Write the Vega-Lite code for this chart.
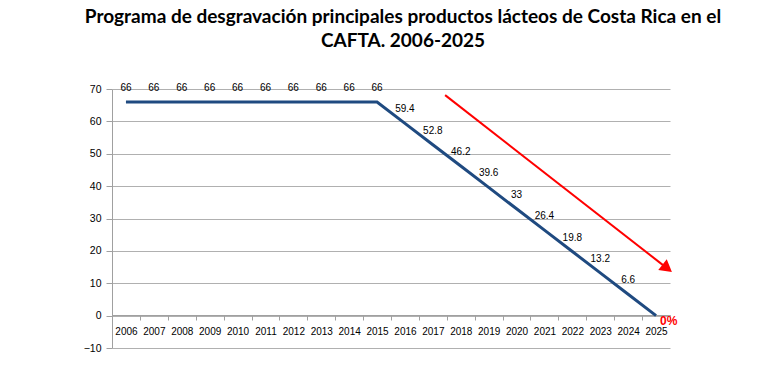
{
  "$schema": "https://vega.github.io/schema/vega-lite/v6.json",
  "width": 558,
  "height": 259,
  "autosize": "none",
  "padding": {"left": 112, "top": 89, "right": 105, "bottom": 26},
  "background": "white",
  "title": {
    "text": ["Programa de desgravación principales productos lácteos de Costa Rica en el", "CAFTA. 2006-2025"],
    "font": "Lato",
    "fontSize": 19,
    "fontWeight": "bold",
    "color": "black",
    "lineHeight": 24,
    "anchor": "middle",
    "frame": "group",
    "dx": 12,
    "offset": 32
  },
  "config": {
    "view": {"stroke": null},
    "axisY": {
      "title": null,
      "values": [-10, 0, 10, 20, 30, 40, 50, 60, 70],
      "labelOverlap": false,
      "grid": true,
      "gridColor": "#b0b0b0",
      "domainColor": "#a0a0a0",
      "tickColor": "#a0a0a0",
      "tickSize": 6,
      "labelPadding": 5,
      "labelFont": "Liberation Sans",
      "labelFontSize": 10.5,
      "labelColor": "black"
    }
  },
  "layer": [
    {
      "data": {
        "values": [
          {"year": "2006", "value": 66},
          {"year": "2007", "value": 66},
          {"year": "2008", "value": 66},
          {"year": "2009", "value": 66},
          {"year": "2010", "value": 66},
          {"year": "2011", "value": 66},
          {"year": "2012", "value": 66},
          {"year": "2013", "value": 66},
          {"year": "2014", "value": 66},
          {"year": "2015", "value": 66},
          {"year": "2016", "value": 59.4},
          {"year": "2017", "value": 52.8},
          {"year": "2018", "value": 46.2},
          {"year": "2019", "value": 39.6},
          {"year": "2020", "value": 33},
          {"year": "2021", "value": 26.4},
          {"year": "2022", "value": 19.8},
          {"year": "2023", "value": 13.2},
          {"year": "2024", "value": 6.6},
          {"year": "2025", "value": 0}
        ]
      },
      "encoding": {
        "x": {
          "field": "year",
          "type": "ordinal",
          "scale": {"type": "band", "paddingInner": 0, "paddingOuter": 0},
          "axis": {
            "title": null,
            "labelAngle": 0,
            "grid": false,
            "tickBand": "extent",
            "offset": -33,
            "domainColor": "#a0a0a0",
            "tickColor": "#a0a0a0",
            "tickSize": 5,
            "labelPadding": 6,
            "labelFont": "Liberation Sans",
            "labelFontSize": 10,
            "labelColor": "black"
          }
        },
        "y": {
          "field": "value",
          "type": "quantitative",
          "scale": {"domain": [-10, 70], "nice": false}
        }
      },
      "layer": [
        {"mark": {"type": "line", "color": "#1f4a80", "strokeWidth": 3}},
        {
          "transform": [{"filter": "datum.year != '2025'"}],
          "mark": {"type": "text", "dy": -14, "font": "Liberation Sans", "fontSize": 10, "color": "black"},
          "encoding": {"text": {"field": "value", "type": "quantitative"}}
        },
        {
          "transform": [{"filter": "datum.year == '2025'"}],
          "mark": {"type": "text", "text": "0%", "align": "left", "dx": 4, "dy": 5, "font": "Liberation Sans", "fontSize": 12, "fontWeight": "bold", "color": "#ff0000"}
        }
      ]
    },
    {
      "data": {"values": [{"x1": 2017.44, "y1": 68.1, "x2": 2025.25, "y2": 15.6, "hx": 2025.4, "hy": 14.6}]},
      "layer": [
        {
          "mark": {"type": "rule", "color": "#ff0000", "strokeWidth": 2},
          "encoding": {
            "x": {"field": "x1", "type": "quantitative", "scale": {"domain": [2005.5, 2025.5], "nice": false, "zero": false}, "axis": null},
            "y": {"field": "y1", "type": "quantitative"},
            "x2": {"field": "x2"},
            "y2": {"field": "y2"}
          }
        },
        {
          "mark": {"type": "point", "shape": "triangle-right", "filled": true, "color": "#ff0000", "opacity": 1, "size": 190, "angle": 38},
          "encoding": {
            "x": {"field": "hx", "type": "quantitative", "scale": {"domain": [2005.5, 2025.5], "nice": false, "zero": false}, "axis": null},
            "y": {"field": "hy", "type": "quantitative"}
          }
        }
      ]
    }
  ],
  "resolve": {"scale": {"x": "independent"}}
}
